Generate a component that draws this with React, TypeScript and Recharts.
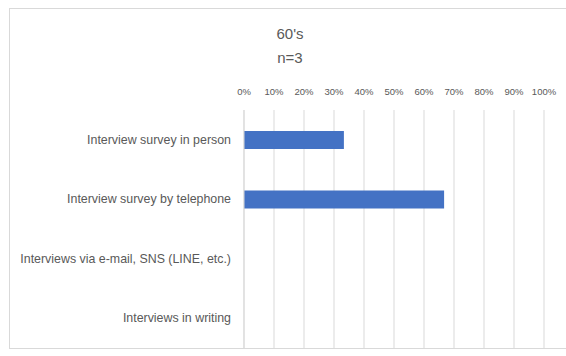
import { BarChart, Bar, XAxis, YAxis, CartesianGrid } from "recharts";

const categories = [
  "Interview survey in person",
  "Interview survey by telephone",
  "Interviews via e-mail, SNS (LINE, etc.)",
  "Interviews in writing",
];
const shares = [33.3, 66.7, 0, 0];
const percentTicks = [0, 10, 20, 30, 40, 50, 60, 70, 80, 90, 100];

const rows = categories.map((name, i) => ({ name, value: shares[i] }));

const font = "'Liberation Sans', Arial, sans-serif";

// single-line category label, right aligned a few px left of the axis
const CategoryTick = (props: any) => {
  const { x, y, payload } = props;
  return (
    <text
      x={x - 5}
      y={y}
      dy={4}
      textAnchor="end"
      fill="#595959"
      fontSize={12.4}
      fontFamily={font}
    >
      {payload.value}
    </text>
  );
};

export default function App() {
  return (
    <div
      style={{
        position: "absolute",
        left: 9,
        top: 8,
        width: 560,
        height: 339,
        border: "1px solid #d9d9d9",
        background: "#fff",
        fontFamily: font,
      }}
    >
      <div
        style={{
          position: "absolute",
          left: 230,
          width: 100,
          top: 13,
          textAlign: "center",
          color: "#595959",
          fontSize: 15,
          lineHeight: "24px",
        }}
      >
        <div>60's</div>
        <div>n=3</div>
      </div>
      <BarChart
        width={557}
        height={339}
        data={rows}
        layout="vertical"
        margin={{ top: 0, right: 23, left: 0, bottom: 0 }}
        barSize={18}
      >
        <CartesianGrid horizontal={false} stroke="#d9d9d9" />
        <XAxis
          type="number"
          orientation="top"
          domain={[0, 100]}
          ticks={percentTicks}
          tickFormatter={(v: number) => `${v}%`}
          height={101}
          axisLine={false}
          tickLine={false}
          tickMargin={9}
          tick={{ fill: "#595959", fontSize: 9.5, fontFamily: font }}
          interval={0}
        />
        <YAxis
          type="category"
          dataKey="name"
          width={234}
          axisLine={{ stroke: "#d9d9d9" }}
          tickLine={false}
          tick={<CategoryTick />}
          interval={0}
        />
        <Bar dataKey="value" fill="#4472c4" isAnimationActive={false} />
      </BarChart>
    </div>
  );
}
